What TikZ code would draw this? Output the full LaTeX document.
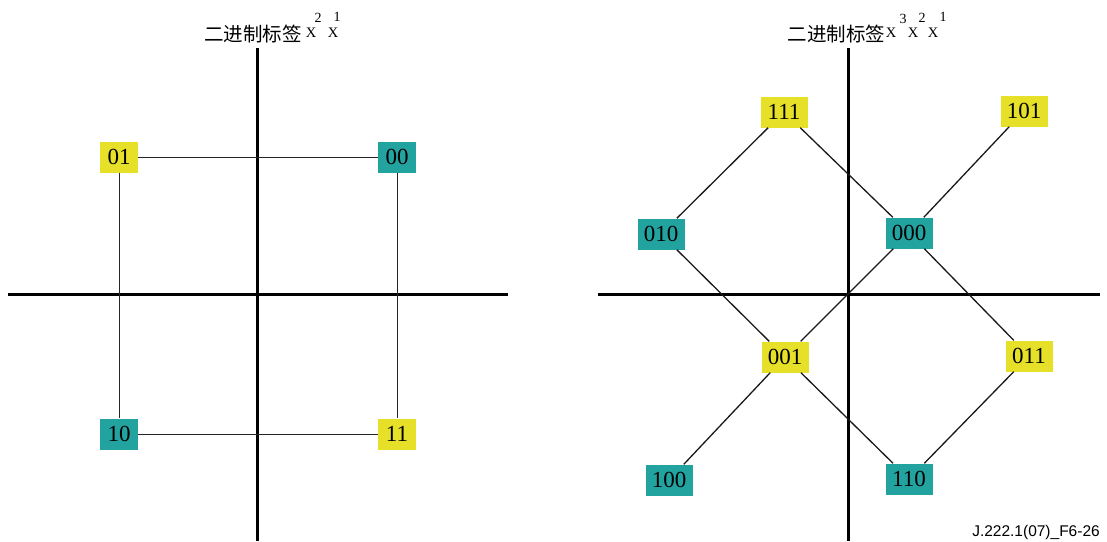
\documentclass[tikz,border=0pt]{standalone}
\usepackage{fontspec}
\setmainfont{Liberation Serif}
\newfontfamily\cjk{Noto Sans CJK SC}
\newfontfamily\labelsans{Liberation Sans}
\definecolor{lblyellow}{RGB}{230,225,40}
\definecolor{lblteal}{RGB}{34,163,160}
\begin{document}
\begin{tikzpicture}[x=1pt,y=-1pt,
  axis/.style={line width=3pt},
  link/.style={line width=1pt, draw=black!85},
  dlink/.style={line width=1.3pt, draw=black!90},
  cell/.style={inner sep=0pt, minimum height=31pt, font=\fontsize{23}{23}\selectfont},
  two/.style={cell, minimum width=38pt},
  three/.style={cell, minimum width=47pt},
  yel/.style={fill=lblyellow},
  tea/.style={fill=lblteal},
  head/.style={inner sep=0pt, font=\cjk\fontsize{19.5}{19.5}\selectfont},
  xs/.style={inner sep=0pt, font=\fontsize{14.5}{14.5}\selectfont},
  sup/.style={inner sep=0pt, font=\fontsize{14}{14}\selectfont}]
\useasboundingbox (0,0) rectangle (1107,541);

% ---- two-bit constellation ----
\coordinate (lvt) at (257,48);
\coordinate (lvb) at (257,541);
\coordinate (lhl) at (8,294);
\coordinate (lhr) at (508,294);
\draw[axis] (lvt) -- (lvb);
\draw[axis] (lhl) -- (lhr);

\node[two,yel] (l01) at (119,157) {01};
\node[two,tea] (l00) at (397,157) {00};
\node[two,tea] (l10) at (119,434) {10};
\node[two,yel] (l11) at (397,434) {11};
\draw[link] (l01) -- (l00);
\draw[link] (l01) -- (l10);
\draw[link] (l00) -- (l11);
\draw[link] (l10) -- (l11);

\node[head] (lt) at (253,34) {二进制标签};
\node[xs] (lx2) at (311,33) {X};
\node[xs] (lx1) at (333,33) {X};
\node[sup] (ls2) at (318,18) {2};
\node[sup] (ls1) at (337,17) {1};

% ---- three-bit constellation ----
\coordinate (rvt) at (848,48);
\coordinate (rvb) at (848,541);
\coordinate (rhl) at (598,294);
\coordinate (rhr) at (1100,294);
\draw[axis] (rvt) -- (rvb);
\draw[axis] (rhl) -- (rhr);

\node[three,yel] (r111) at (784,112) {111};
\node[three,yel] (r101) at (1024,111) {101};
\node[three,tea] (r010) at (661,234) {010};
\node[three,tea] (r000) at (909,233) {000};
\node[three,yel] (r001) at (785,357) {001};
\node[three,yel] (r011) at (1029,356) {011};
\node[three,tea] (r100) at (669,480) {100};
\node[three,tea] (r110) at (909,479) {110};

\draw[dlink] (r111) -- (r010);
\draw[dlink] (r111) -- (r000);
\draw[dlink] (r101) -- (r000);
\draw[dlink] (r010) -- (r001);
\draw[dlink] (r000) -- (r001);
\draw[dlink] (r000) -- (r011);
\draw[dlink] (r001) -- (r100);
\draw[dlink] (r001) -- (r110);
\draw[dlink] (r011) -- (r110);

\node[head] (rt) at (836.5,34) {二进制标签};
\node[xs] (rx3) at (891,33) {X};
\node[xs] (rx2) at (913,33) {X};
\node[xs] (rx1) at (933,33) {X};
\node[sup] (rs3) at (903,19) {3};
\node[sup] (rs2) at (922,18) {2};
\node[sup] (rs1) at (943,17) {1};

\node[inner sep=0pt, font=\labelsans\fontsize{15.5}{15.5}\selectfont] (ref) at (1036,532) {J.222.1(07)\_F6-26};
\end{tikzpicture}
\end{document}
